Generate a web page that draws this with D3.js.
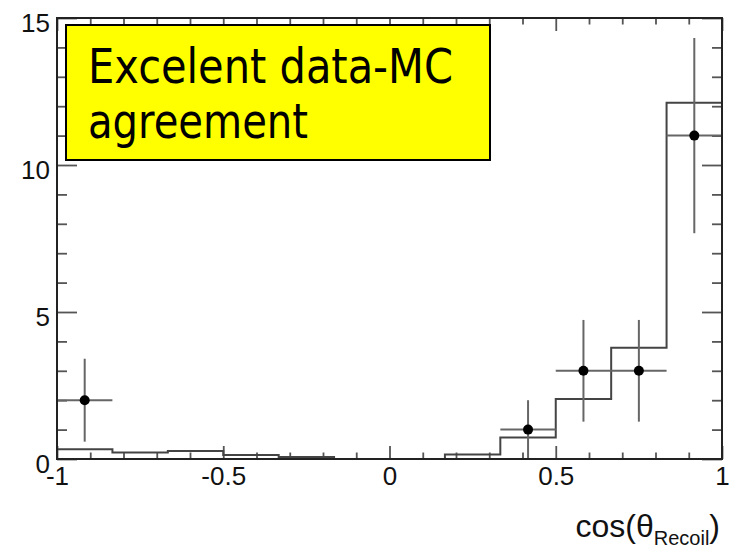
<!DOCTYPE html>
<html>
<head>
<meta charset="utf-8">
<script src="https://cdn.jsdelivr.net/npm/d3@7"></script>
<style>
  body { margin: 0; background: #fff; }
</style>
</head>
<body>
<div id="graph-container"></div>
<script>
const width = 730, height = 548;

// MC histogram: 12 bins of width 1/6
const binEdges = [-1, -0.8333, -0.6667, -0.5, -0.3333, -0.1667, 0, 0.1667, 0.3333, 0.5, 0.6667, 0.8333, 1];
const mcValues = [0.33, 0.22, 0.27, 0.14, 0.07, 0, 0, 0.15, 0.73, 2.04, 3.78, 12.12];

// data points (bin centre, count, stat. error, half bin width)
const dataX = [-0.9167, 0.4167, 0.5833, 0.75, 0.9167];
const dataY = [2, 1, 3, 3, 11];
const dataErr = [1.41, 1, 1.73, 1.73, 3.32];
const dataXErr = [0.0833, 0.0833, 0.0833, 0.0833, 0.0833];

const xMajor = [-1, -0.5, 0, 0.5, 1];
const xLabels = ["-1", "-0.5", "0", "0.5", "1"];
const xMinor = [-0.9, -0.8, -0.7, -0.6, -0.4, -0.3, -0.2, -0.1, 0.1, 0.2, 0.3, 0.4, 0.6, 0.7, 0.8, 0.9];
const yMajor = [0, 5, 10, 15];
const yLabels = ["0", "5", "10", "15"];
const yMinor = [1, 2, 3, 4, 6, 7, 8, 9, 11, 12, 13, 14];

const noteLines = ["Excelent data-MC", "agreement"];

const x = d3.scaleLinear().domain([-1, 1]).range([57, 722]);
const y = d3.scaleLinear().domain([0, 15]).range([459, 18]);

const svg = d3.create("svg")
  .attr("width", width)
  .attr("height", height)
  .attr("viewBox", [0, 0, width, height]);

svg.append("rect").attr("width", width).attr("height", height).attr("fill", "#fff");

const tickFont = "'Liberation Sans', Arial, Helvetica, sans-serif";

function styleAxis(g) {
  g.select(".domain").remove();
  g.selectAll(".tick line").attr("stroke", "#555").attr("stroke-width", 1.8);
  g.selectAll(".tick text")
    .attr("fill", "#111")
    .style("font-family", tickFont)
    .style("font-size", "26px");
}

// bottom axis (ticks pointing into the frame)
svg.append("g")
  .attr("transform", `translate(0,${y(0)})`)
  .call(d3.axisBottom(x).tickValues(xMinor).tickSize(-6.5).tickFormat(""))
  .call(styleAxis);
svg.append("g")
  .attr("transform", `translate(0,${y(0)})`)
  .call(d3.axisBottom(x).tickValues(xMajor).tickSize(-13).tickPadding(8)
    .tickFormat((d, i) => xLabels[i]))
  .call(styleAxis);

// top axis
svg.append("g")
  .attr("transform", `translate(0,${y(15)})`)
  .call(d3.axisTop(x).tickValues(xMinor).tickSize(-6.5).tickFormat(""))
  .call(styleAxis);
svg.append("g")
  .attr("transform", `translate(0,${y(15)})`)
  .call(d3.axisTop(x).tickValues(xMajor).tickSize(-13).tickFormat(""))
  .call(styleAxis);

// left axis
svg.append("g")
  .attr("transform", `translate(${x(-1)},0)`)
  .call(d3.axisLeft(y).tickValues(yMinor).tickSize(-10).tickFormat(""))
  .call(styleAxis);
svg.append("g")
  .attr("transform", `translate(${x(-1)},0)`)
  .call(d3.axisLeft(y).tickValues(yMajor).tickSize(-20).tickPadding(7)
    .tickFormat((d, i) => yLabels[i]))
  .call(styleAxis)
  .call(g => g.selectAll(".tick text").attr("dy", "0.52em"));

// right axis
svg.append("g")
  .attr("transform", `translate(${x(1)},0)`)
  .call(d3.axisRight(y).tickValues(yMinor).tickSize(-10).tickFormat(""))
  .call(styleAxis);
svg.append("g")
  .attr("transform", `translate(${x(1)},0)`)
  .call(d3.axisRight(y).tickValues(yMajor).tickSize(-20).tickFormat(""))
  .call(styleAxis);

// MC histogram as a step line
const histPts = [[binEdges[0], 0]];
mcValues.forEach((v, i) => histPts.push([binEdges[i], v]));
histPts.push([binEdges[binEdges.length - 1], mcValues[mcValues.length - 1]]);
histPts.push([binEdges[binEdges.length - 1], 0]);

const step = d3.line()
  .x(d => x(d[0]))
  .y(d => y(d[1]))
  .curve(d3.curveStepAfter);

svg.append("path")
  .datum(histPts)
  .attr("fill", "none")
  .attr("stroke", "#444")
  .attr("stroke-width", 2)
  .attr("d", step);

// data points with error bars
const pts = dataX.map((d, i) => ({x: d, y: dataY[i], e: dataErr[i], ex: dataXErr[i]}));

const bars = svg.append("g").attr("stroke", "#666").attr("stroke-width", 2);
bars.selectAll(".ev")
  .data(pts)
  .join("line")
  .attr("x1", d => x(d.x)).attr("x2", d => x(d.x))
  .attr("y1", d => y(Math.max(0, d.y - d.e))).attr("y2", d => y(d.y + d.e));
bars.selectAll(".eh")
  .data(pts)
  .join("line")
  .attr("x1", d => x(d.x - d.ex)).attr("x2", d => x(d.x + d.ex))
  .attr("y1", d => y(d.y)).attr("y2", d => y(d.y));

svg.append("g").selectAll("circle")
  .data(pts)
  .join("circle")
  .attr("cx", d => x(d.x))
  .attr("cy", d => y(d.y))
  .attr("r", 5)
  .attr("fill", "#000");

// frame
svg.append("rect")
  .attr("x", x(-1)).attr("y", y(15))
  .attr("width", x(1) - x(-1)).attr("height", y(0) - y(15))
  .attr("fill", "none")
  .attr("stroke", "#222")
  .attr("stroke-width", 2);

// annotation box
svg.append("rect")
  .attr("x", 66).attr("y", 25)
  .attr("width", 424).attr("height", 135)
  .attr("fill", "#ffff00")
  .attr("stroke", "#000")
  .attr("stroke-width", 2);

const noteWidths = [365, 220];
svg.append("g").selectAll("text")
  .data(noteLines)
  .join("text")
  .attr("x", 88)
  .attr("y", (d, i) => 83 + i * 55)
  .attr("textLength", (d, i) => noteWidths[i])
  .attr("lengthAdjust", "spacingAndGlyphs")
  .attr("fill", "#000")
  .style("font-family", "Tahoma, 'DejaVu Sans', sans-serif")
  .style("font-size", "48px")
  .text(d => d);

// x axis title
const title = svg.append("text")
  .attr("x", 720)
  .attr("y", 537)
  .attr("text-anchor", "end")
  .attr("fill", "#111")
  .style("font-family", tickFont)
  .style("font-size", "32px");
title.append("tspan").text("cos(θ");
title.append("tspan").attr("dy", 8).style("font-size", "20px").text("Recoil");
title.append("tspan").attr("dy", -8).text(")");

document.getElementById("graph-container").appendChild(svg.node());
</script>
</body>
</html>
